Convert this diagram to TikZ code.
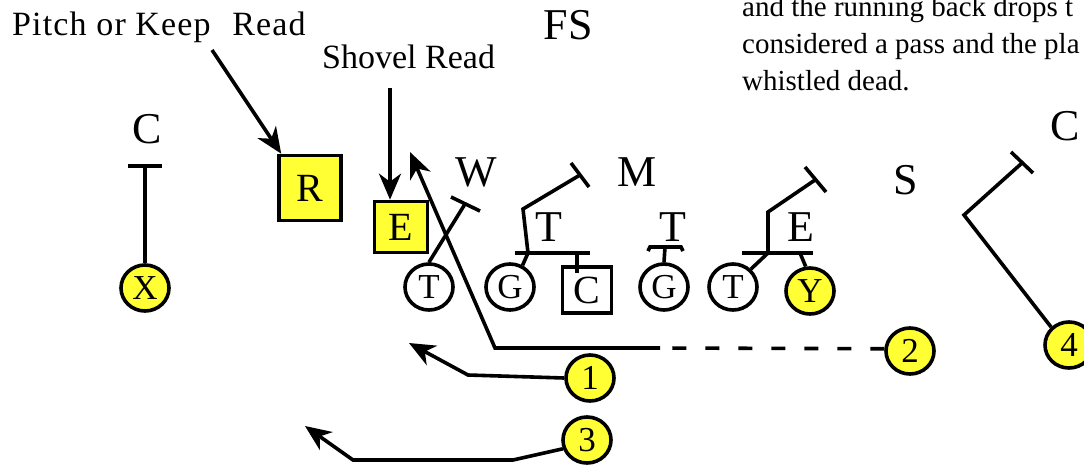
\documentclass[tikz,border=0pt]{standalone}
\usepackage{fontspec}
\setmainfont{Liberation Serif}
\usetikzlibrary{arrows.meta,shapes.geometric}
\definecolor{hilite}{RGB}{255,255,51}
\tikzset{every node/.style={inner sep=0pt},
man/.style={draw,ellipse,line width=3.6pt,minimum width=48pt,minimum height=46pt,font=\fontsize{35}{40}\selectfont},
box/.style={draw,rectangle,line width=3.6pt,font=\fontsize{40}{44}\selectfont},
skill/.style={fill=hilite},defpos/.style={font=\fontsize{44}{50}\selectfont},
note/.style={font=\fontsize{34}{40}\selectfont},
route/.style={line width=3.6pt,line join=miter},flow/.style={route,-{Stealth[length=26pt 0,width=22pt 0,inset=8pt]}}}

\begin{document}
\begin{tikzpicture}[x=1pt,y=-1pt]
\useasboundingbox (0,0) rectangle (1084,464);\clip (0,0) rectangle (1084,464);
% defense
\node[defpos] (fs) at (568,25){FS};\node[defpos] (cl) at (147,129){C};\node[defpos] (cr) at (1065,126){C};
\node[defpos] (w) at (476,172){W};\node[defpos] (m) at (637,172){M};\node[defpos] (s) at (906,180){S};
\node[defpos] (dt1) at (549,227){T};\node[defpos] (dt2) at (673,227){T};\node[defpos] (de) at (801,227){E};
% offense
\node[man,skill] (x) at (145,288){X};
\node[box,skill,minimum width=62pt,minimum height=65pt] (r) at (310,188){R};
\node[box,skill,minimum width=53pt,minimum height=51pt] (e) at (401,227){E};
\node[man] (lt) at (429,287){T};\node[man] (lg) at (510,287){G};
\node[box,minimum width=49pt,minimum height=46pt] (c) at (587,290){C};
\node[man] (rg) at (664,287){G};\node[man] (rt) at (733,287){T};
\node[man,skill] (y) at (810,291){Y};
\node[man,skill] (one) at (590,378){1};\node[man,skill] (two) at (910,351){2};
\node[man,skill] (three) at (587,440){3};\node[man,skill] (four) at (1069,345){4};
% labels
\node[note,anchor=base west] (pitch) at (12,35){\addfontfeatures{LetterSpace=3.4}Pitch or Keep\hspace{12pt} Read};
\node[note,anchor=base west] (shovel) at (322,68){Shovel Read};
\node[anchor=base west,align=left,font=\fontsize{29}{37}\selectfont] (txt) at (742,90){and the running back drops t\\considered a pass and the pla\\whistled dead.};
\coordinate (pk) at (212,50);\coordinate (sv) at (390,88);
\draw[flow] (pk) -- (r.130);
\draw[flow] (sv) -- (sv |- e.north);
% blocks and routes
\draw[route] (x.north) -- (145,166);\draw[route] (128,166) -- (162,166);
\draw[route] (lt.north) -- (465,204);\draw[route] (451,197) -- (480,211);
\draw[route] (515,253) -- (590,253);\draw[route] (577,253) -- (577,273);
\draw[route] (lg.60) -- (528,253) -- (523,209) -- (580,175);\draw[route] (571,163) -- (589,187);
\draw[route] (648,251) -- (650,247) -- (681,247) -- (683,251);\draw[route] (rg.north) -- (665,247);
\draw[route] (742,253) -- (813,253);\draw[route] (y.100) -- (800,253);
\draw[route] (rt.45) -- (768,253) -- (768,212) -- (815,180);\draw[route] (805,167) -- (826,192);
\draw[route] (four.135) -- (964,215) -- (1022,163);\draw[route] (1011,152) -- (1033,173);
\draw[route,dash pattern=on 14pt off 19pt] (two.175) -- (660,348);
\draw[flow] (660,348) -- (495,348) -- (410,152);
\draw[flow] (one.west) -- (468,375) -- (409,343);
\draw[flow] (three.200) -- (513,460) -- (353,460) -- (305,426);
\end{tikzpicture}
\end{document}
